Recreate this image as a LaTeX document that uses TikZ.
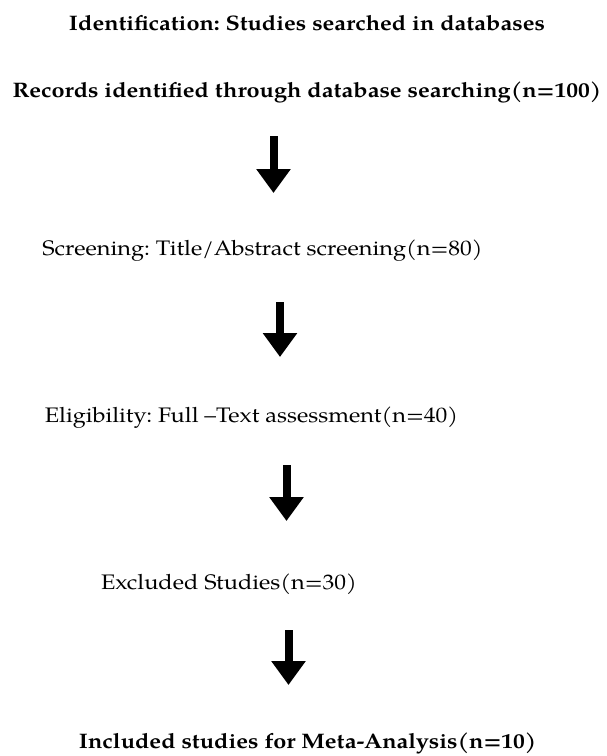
\documentclass[tikz,border=0pt]{standalone}
\usepackage{fontspec}
\setmainfont[FakeStretch=1.12]{TeX Gyre Pagella}
\usetikzlibrary{arrows.meta}
\tikzset{
  lbl/.style={anchor=base, inner sep=0pt, font=\fontsize{21}{24}\selectfont\frenchspacing},
  lblb/.style={lbl, font=\fontsize{21}{24}\selectfont\frenchspacing\bfseries},
  bigarrow/.style={line width=8pt, -{Triangle[width=33pt,length=24pt]}}
}
\begin{document}
\begin{tikzpicture}[x=1pt,y=-1pt]
\useasboundingbox (0,0) rectangle (606,756);
\node[lblb] (title) at (307,30) {Identification: Studies searched in databases};
\node[lblb] (rec) at (307,97) {Records identified through database searching(n=100)};
\node[lbl] (scr) at (262.5,255) {Screening: Title/Abstract screening(n=80)};
\node[lbl] (eli) at (251.5,422) {Eligibility: Full –Text assessment(n=40)};
\node[lbl] (exc) at (229,589) {Excluded Studies(n=30)};
\node[lblb] (inc) at (307.7,748) {Included studies for Meta-Analysis(n=10)};
\coordinate (a1s) at (273.5,136); \coordinate (a1e) at (273.5,193);
\coordinate (a2s) at (280,302); \coordinate (a2e) at (280,357);
\coordinate (a3s) at (286.5,465); \coordinate (a3e) at (286.5,521);
\coordinate (a4s) at (288.5,630); \coordinate (a4e) at (288.5,685);
\draw[bigarrow] (a1s) -- (a1e);
\draw[bigarrow] (a2s) -- (a2e);
\draw[bigarrow] (a3s) -- (a3e);
\draw[bigarrow] (a4s) -- (a4e);
\end{tikzpicture}
\end{document}
